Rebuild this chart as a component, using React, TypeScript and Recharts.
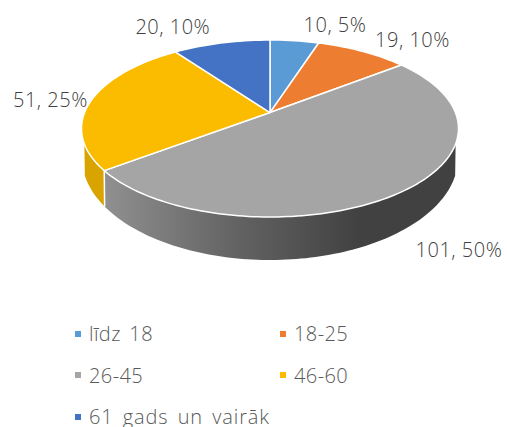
import React from "react";
import { PieChart, Pie, Legend } from "recharts";

const categories = ["līdz 18", "18-25", "26-45", "46-60", "61 gads un vairāk"];
const counts = [10, 19, 101, 51, 20];
const percents = [5, 10, 50, 25, 10];
const colors = ["#5b9bd5", "#ed7d31", "#a5a5a5", "#fbbc00", "#4472c4"];
const wallColors = ["#4a86bd", "#c96a28", "url(#wallGray)", "#d9a400", "#3a62a8"];
const labelOffsets = [[40.5, -16.7], [50, -12], [57, 58], [-41, -0.5], [-48.5, -17]];

const rows = categories.map((name, i) => ({ name, value: counts[i], fill: colors[i], idx: i }));

const W = 507;
const H = 427;
const CX = 270;
const CY = 128.5;
const RX = 188.5;
const RY = 88.5;
const APEX_SHIFT = 0.18;
const BOTTOM_CY = 158;
const BOTTOM_RY = 102;
const FONT = "'Open Sans', sans-serif";

// Perspective view of the pie's disc: math angle in degrees -> normalised ellipse coordinates
function project(a: number) {
  const t = (a * Math.PI) / 180;
  const x = Math.cos(t);
  const v = -Math.sin(t);
  const den = 1 - APEX_SHIFT * v;
  return { u: (x * Math.sqrt(1 - APEX_SHIFT * APEX_SHIFT)) / den, v: (v - APEX_SHIFT) / den };
}
const phiOf = (a: number) => {
  const p = project(a);
  return Math.atan2(p.v, p.u);
};
const topPt = (phi: number) => [CX + RX * Math.cos(phi), CY + RY * Math.sin(phi)];
const botPt = (phi: number) => [CX + (RX - 0.5) * Math.cos(phi), BOTTOM_CY + BOTTOM_RY * Math.sin(phi)];
const fmt = (p: number[]) => `${p[0].toFixed(2)} ${p[1].toFixed(2)}`;

const WALL_MIN = (10 * Math.PI) / 180;
const WALL_MAX = (170 * Math.PI) / 180;
const STEP = (1.5 * Math.PI) / 180;

function Slice(props: any) {
  const { startAngle, endAngle, fill, index } = props;
  const i = index ?? props.payload?.idx ?? 0;
  let ps = phiOf(startAngle);
  let pe = phiOf(endAngle);
  while (pe <= ps) pe += Math.PI * 2;
  const apex = [CX, CY - APEX_SHIFT * RY];
  const arc: number[][] = [];
  for (let p = ps; p < pe; p += STEP) arc.push(topPt(p));
  arc.push(topPt(pe));
  const top = `M${fmt(apex)} L${arc.map(fmt).join(" L")} Z`;

  const wa = Math.max(ps, WALL_MIN);
  const wb = Math.min(pe, WALL_MAX);
  let wall = "";
  let seam = "";
  if (wb > wa) {
    const upper: number[][] = [];
    const lower: number[][] = [];
    for (let p = wa; p < wb; p += STEP) {
      upper.push(topPt(p));
      lower.push(botPt(p));
    }
    upper.push(topPt(wb));
    lower.push(botPt(wb));
    wall = `M${upper.map(fmt).join(" L")} L${lower.reverse().map(fmt).join(" L")} Z`;
    if (ps > WALL_MIN && ps < WALL_MAX) seam = `M${fmt(topPt(ps))} L${fmt(botPt(ps))}`;
  }
  return (
    <g>
      <defs>
        <linearGradient id="wallGray" gradientUnits="userSpaceOnUse" x1={104} y1={0} x2={360} y2={0}>
          <stop offset="0" stopColor="#909090" />
          <stop offset="0.5" stopColor="#646464" />
          <stop offset="1" stopColor="#414141" />
        </linearGradient>
      </defs>
      {wall && <path d={wall} fill={wallColors[i]} stroke="none" />}
      {seam && <path d={seam} stroke="#ffffff" strokeWidth={1.5} fill="none" />}
      <path d={top} fill={fill} stroke="#ffffff" strokeWidth={1.5} strokeLinejoin="round" />
    </g>
  );
}

function renderLabel(props: any) {
  const { index, midAngle } = props;
  const p = project(midAngle);
  const x = CX + RX * p.u + labelOffsets[index][0];
  const y = CY + RY * p.v + labelOffsets[index][1];
  return (
    <text
      key={index}
      x={x}
      y={y}
      textAnchor="middle"
      dominantBaseline="central"
      fontFamily={FONT}
      fontSize={20}
      fontWeight={300}
      letterSpacing={0.5}
      fill="#404040"
    >
      {`${counts[index]}, ${percents[index]}%`}
    </text>
  );
}

function LegendBox(props: any) {
  const items = props.payload ?? [];
  return (
    <div style={{ position: "relative", width: W, height: 120 }}>
      {items.map((it: any, i: number) => {
        const col = i % 2;
        const row = Math.floor(i / 2);
        return (
          <div
            key={i}
            style={{
              position: "absolute",
              left: col === 0 ? 75 : 280,
              top: row * 41.5 - 0.5,
              height: 26,
              display: "flex",
              alignItems: "center",
              whiteSpace: "nowrap",
              fontFamily: FONT,
              fontSize: 20,
              fontWeight: 300,
              letterSpacing: String(it.value).length > 10 ? 0.9 : 0.4,
              wordSpacing: 3,
              color: "#595959",
            }}
          >
            <span style={{ width: 6, height: 6, marginRight: 8, background: it.color, display: "inline-block" }} />
            {it.value}
          </div>
        );
      })}
    </div>
  );
}

export default function App() {
  return (
    <div style={{ position: "absolute", left: 0, top: 0, width: W, height: H, overflow: "hidden", background: "#fff" }}>
      <PieChart width={W} height={H} margin={{ top: 0, right: 0, bottom: 0, left: 0 }}>
        <Pie
          data={rows}
          dataKey="value"
          nameKey="name"
          cx={CX}
          cy={CY}
          innerRadius={0}
          outerRadius={RX}
          startAngle={90}
          endAngle={-270}
          isAnimationActive={false}
          label={renderLabel}
          labelLine={false}
          shape={Slice}
          stroke="none"
        />
        <Legend
          content={LegendBox}
          itemSorter={null}
          wrapperStyle={{ position: "absolute", left: 0, top: 321, width: W }}
        />
      </PieChart>
    </div>
  );
}
